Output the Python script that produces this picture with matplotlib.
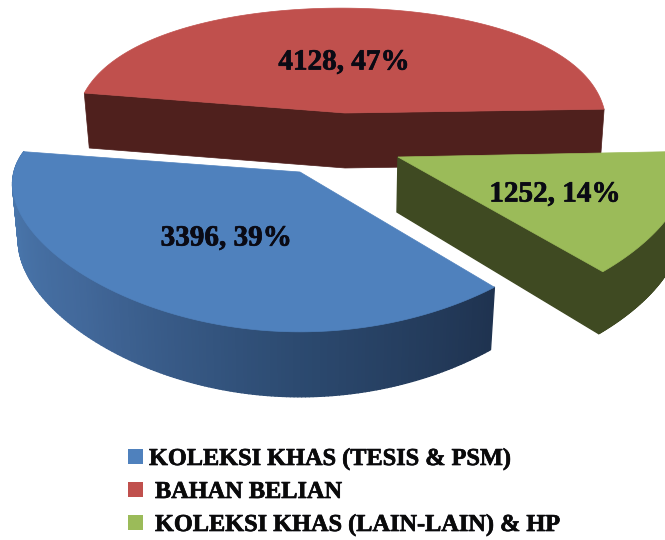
import numpy as np
import matplotlib
matplotlib.use('Agg')
import matplotlib.pyplot as plt
import matplotlib.patheffects as pe
from matplotlib.colors import to_rgb
from matplotlib.patches import Polygon, Rectangle
from matplotlib.collections import PolyCollection

labels = ['KOLEKSI KHAS (TESIS & PSM)', 'BAHAN BELIAN', 'KOLEKSI KHAS (LAIN-LAIN) & HP']
values = [3396, 4128, 1252]
percents = [39, 47, 14]
top_colors = ['#4f81bd', '#c0504d', '#9bbb59']

plt.rcParams['font.family'] = ['Liberation Serif', 'DejaVu Serif']

fig = plt.figure(figsize=(6.65, 5.4), dpi=100)
ax = fig.add_axes([0, 0, 1, 1])
ax.set_xlim(0, 665)
ax.set_ylim(540, 0)
ax.axis('off')

# sweeps come from the values, each slice gets a small rotation to fit the picture
total = sum(values)
sweep_blue, sweep_red, sweep_green = [v / total * 360 for v in values]
blue_start = 169.5
green_start = blue_start + sweep_blue + 2.5
red_start = blue_start + sweep_blue + sweep_green + 1.5 - 360

px, py = 0.1, 0.268


def arc(a0, a1, rx, ry, cx, cy):
    t = np.radians(np.linspace(a0, a1, 200))
    u, v = np.cos(t), np.sin(t)
    return np.column_stack([cx + rx * u / (1 + px * v), cy - ry * v / (1 + py * v)])


def top_face(a0, a1, rx, ry, cx, cy, color, z, apex=None):
    if apex is None:
        apex = (cx, cy)
    pts = np.vstack([apex, arc(a0, a1, rx, ry, cx, cy)])
    ax.add_patch(Polygon(pts, closed=True, fc=color, ec=color, lw=0.5, zorder=z))


def wall(a0, a1, rx, ry, cx, cy, d0, d1, stops, z):
    pts = arc(a0, a1, rx, ry, cx, cy)
    # depth grows towards the viewer, lower edge pulls in a little
    f = (pts[:, 1] - pts[:, 1].min()) / (np.ptp(pts[:, 1]) + 1)
    d = d0 + (d1 - d0) * f
    low = np.column_stack([cx + (pts[:, 0] - cx) * 0.98, pts[:, 1] + d])
    s = np.linspace(0, 1, len(pts) - 1)
    st = [x[0] for x in stops]
    rgb = np.array([to_rgb(x[1]) for x in stops])
    quads, cols = [], []
    for i in range(len(pts) - 1):
        quads.append([pts[i], pts[i + 1], low[i + 1], low[i]])
        cols.append([np.interp(s[i], st, rgb[:, c]) for c in range(3)])
    ax.add_collection(PolyCollection(quads, facecolors=cols, edgecolors=cols, linewidths=1, zorder=z))


# red slice, behind the others
rc = (345, 113)
rx_red, ry_red = 264, 133
red_pts = arc(red_start, red_start + sweep_red, rx_red, ry_red, 341, rc[1])
p_right, p_left = red_pts[0], red_pts[-1]
dark_red = '#4f201d'
ax.add_patch(Polygon([p_left, rc, p_right, p_right + [-4, 55], (rc[0], rc[1] + 55), p_left + [5, 55]],
                     closed=True, fc=dark_red, ec=dark_red, lw=0.5, zorder=1))
top_face(red_start, red_start + sweep_red, rx_red, ry_red, 341, rc[1], top_colors[1], 2, apex=rc)

# green slice
gc = (398, 157)
rx_g, ry_g = 287, 122
dark_green = '#3f4a22'
g_pts = arc(green_start, green_start + sweep_green, rx_g, ry_g, *gc)
wall(green_start, green_start + sweep_green, rx_g, ry_g, gc[0], gc[1], 62, 62,
     [(0, dark_green), (1, dark_green)], 3)
ax.add_patch(Polygon([gc, g_pts[0], g_pts[0] + [-4, 62], (gc[0] - 1, gc[1] + 55)],
                     closed=True, fc=dark_green, ec=dark_green, lw=1, zorder=3))
top_face(green_start, green_start + sweep_green, rx_g, ry_g, gc[0], gc[1], top_colors[2], 4)

# blue slice, in front
bc = (300, 172)
rx_b, ry_b = 286, 117
wall(blue_start, blue_start + sweep_blue, rx_b, ry_b, bc[0], bc[1], 55, 65,
     [(0, '#4a78ae'), (0.12, '#4a78ae'), (0.4, '#42689a'), (0.72, '#2c4a70'), (1, '#1f3350')], 5)
top_face(blue_start, blue_start + sweep_blue, rx_b, ry_b, bc[0], bc[1], top_colors[0], 6)

thick = [pe.withStroke(linewidth=0.5, foreground='#0a0a14')]

# slice labels
label_pos = [(226, 238), (344, 62), (555, 194)]
for val, pct, (x, y) in zip(values, percents, label_pos):
    ax.text(x, y, f'{val}, {pct}%', ha='center', va='center', fontsize=21, fontweight='bold',
            color='#0a0a14', zorder=8, path_effects=thick)

# legend
leg_y = [456.5, 489.5, 522.5]
leg_x = [149, 155, 155]
for name, c, y, x in zip(labels, top_colors, leg_y, leg_x):
    ax.add_patch(Rectangle((128, y - 7.5), 15, 15, fc=c, ec='none', zorder=8))
    ax.text(x, y + 8.5, name, ha='left', va='baseline', fontsize=17.5, fontweight='bold',
            color='#0a0a0a', zorder=8, path_effects=thick)

fig.savefig('out.png', dpi=100)
